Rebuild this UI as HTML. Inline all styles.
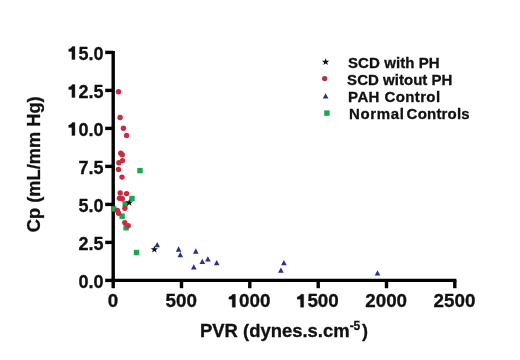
<!DOCTYPE html>
<html><head><meta charset="utf-8"><style>
html,body{margin:0;padding:0;background:#fff;}
svg{display:block;filter:blur(0.35px);}
text{font-family:"Liberation Sans",sans-serif;font-weight:bold;fill:#111;stroke:#111;stroke-width:0.3px;}
.lb{font-size:18px;}
.xt{font-size:18px;text-anchor:middle;}
.lg{font-size:15px;}
.ti{font-size:18px;}
</style></head><body>
<svg width="520" height="360" viewBox="0 0 520 360">
<rect width="520" height="360" fill="#fff"/>
<line x1="113.2" y1="51" x2="113.2" y2="282.09999999999997" stroke="#000" stroke-width="3.4"/>
<line x1="111.5" y1="280.4" x2="456.4" y2="280.4" stroke="#000" stroke-width="3.4"/>
<line x1="105.2" y1="280.4" x2="113.2" y2="280.4" stroke="#000" stroke-width="3.4"/>
<text transform="translate(78.48,287.50) scale(1.0,1)" class="lb">0.0</text>
<line x1="105.2" y1="242.4" x2="113.2" y2="242.4" stroke="#000" stroke-width="3.4"/>
<text transform="translate(78.48,249.50) scale(1.0,1)" class="lb">2.5</text>
<line x1="105.2" y1="204.4" x2="113.2" y2="204.4" stroke="#000" stroke-width="3.4"/>
<text transform="translate(78.48,211.50) scale(1.0,1)" class="lb">5.0</text>
<line x1="105.2" y1="166.4" x2="113.2" y2="166.4" stroke="#000" stroke-width="3.4"/>
<text transform="translate(78.48,173.50) scale(1.0,1)" class="lb">7.5</text>
<line x1="105.2" y1="128.4" x2="113.2" y2="128.4" stroke="#000" stroke-width="3.4"/>
<path transform="translate(68.47,135.50) scale(0.01800,-0.01800)" d="M360 0L190 0L190 445L12 445L12 565Q165 585 215 716L360 716Z" fill="#111" stroke="#111" stroke-width="0.3" vector-effect="non-scaling-stroke"/><text transform="translate(78.48,135.50) scale(1.0,1)" class="lb">0.0</text>
<line x1="105.2" y1="90.4" x2="113.2" y2="90.4" stroke="#000" stroke-width="3.4"/>
<path transform="translate(68.47,97.50) scale(0.01800,-0.01800)" d="M360 0L190 0L190 445L12 445L12 565Q165 585 215 716L360 716Z" fill="#111" stroke="#111" stroke-width="0.3" vector-effect="non-scaling-stroke"/><text transform="translate(78.48,97.50) scale(1.0,1)" class="lb">2.5</text>
<line x1="105.2" y1="52.4" x2="113.2" y2="52.4" stroke="#000" stroke-width="3.4"/>
<path transform="translate(68.47,59.50) scale(0.01800,-0.01800)" d="M360 0L190 0L190 445L12 445L12 565Q165 585 215 716L360 716Z" fill="#111" stroke="#111" stroke-width="0.3" vector-effect="non-scaling-stroke"/><text transform="translate(78.48,59.50) scale(1.0,1)" class="lb">5.0</text>
<line x1="113.2" y1="280.4" x2="113.2" y2="288.2" stroke="#000" stroke-width="3.4"/>
<text transform="translate(107.67,307.20) scale(1.045,1)" class="lb">0</text>
<line x1="181.5" y1="280.4" x2="181.5" y2="288.2" stroke="#000" stroke-width="3.4"/>
<text transform="translate(165.53,307.20) scale(1.045,1)" class="lb">500</text>
<line x1="249.8" y1="280.4" x2="249.8" y2="288.2" stroke="#000" stroke-width="3.4"/>
<path transform="translate(228.62,307.20) scale(0.01881,-0.01800)" d="M360 0L190 0L190 445L12 445L12 565Q165 585 215 716L360 716Z" fill="#111" stroke="#111" stroke-width="0.3" vector-effect="non-scaling-stroke"/><text transform="translate(239.08,307.20) scale(1.045,1)" class="lb">000</text>
<line x1="318.2" y1="280.4" x2="318.2" y2="288.2" stroke="#000" stroke-width="3.4"/>
<path transform="translate(296.94,307.20) scale(0.01881,-0.01800)" d="M360 0L190 0L190 445L12 445L12 565Q165 585 215 716L360 716Z" fill="#111" stroke="#111" stroke-width="0.3" vector-effect="non-scaling-stroke"/><text transform="translate(307.40,307.20) scale(1.045,1)" class="lb">500</text>
<line x1="386.5" y1="280.4" x2="386.5" y2="288.2" stroke="#000" stroke-width="3.4"/>
<text transform="translate(365.26,307.20) scale(1.045,1)" class="lb">2000</text>
<line x1="454.8" y1="280.4" x2="454.8" y2="288.2" stroke="#000" stroke-width="3.4"/>
<text transform="translate(433.58,307.20) scale(1.045,1)" class="lb">2500</text>
<rect x="137.30" y="167.90" width="5.4" height="5.4" fill="#1ca650"/>
<rect x="129.30" y="195.80" width="5.4" height="5.4" fill="#1ca650"/>
<rect x="122.50" y="201.10" width="5.4" height="5.4" fill="#1ca650"/>
<rect x="111.10" y="206.20" width="5.4" height="5.4" fill="#1ca650"/>
<rect x="119.40" y="213.50" width="5.4" height="5.4" fill="#1ca650"/>
<rect x="123.40" y="225.10" width="5.4" height="5.4" fill="#1ca650"/>
<rect x="133.80" y="249.80" width="5.4" height="5.4" fill="#1ca650"/>
<circle cx="118.5" cy="91.8" r="2.7" fill="#cc2a40"/>
<circle cx="120.1" cy="117.5" r="2.7" fill="#cc2a40"/>
<circle cx="123.4" cy="128.2" r="2.7" fill="#cc2a40"/>
<circle cx="126.6" cy="135.4" r="2.7" fill="#cc2a40"/>
<circle cx="120.8" cy="153.3" r="2.7" fill="#cc2a40"/>
<circle cx="122.2" cy="154.8" r="2.7" fill="#cc2a40"/>
<circle cx="122.5" cy="160.6" r="2.7" fill="#cc2a40"/>
<circle cx="118.9" cy="162.8" r="2.7" fill="#cc2a40"/>
<circle cx="118.5" cy="169.4" r="2.7" fill="#cc2a40"/>
<circle cx="122" cy="177.1" r="2.7" fill="#cc2a40"/>
<circle cx="120.2" cy="193.0" r="2.7" fill="#cc2a40"/>
<circle cx="126.6" cy="193.6" r="2.7" fill="#cc2a40"/>
<circle cx="119.5" cy="198.3" r="2.7" fill="#cc2a40"/>
<circle cx="122.3" cy="198.8" r="2.7" fill="#cc2a40"/>
<circle cx="124.9" cy="208.3" r="2.7" fill="#cc2a40"/>
<circle cx="117.4" cy="210.4" r="2.7" fill="#cc2a40"/>
<circle cx="118.6" cy="213.2" r="2.7" fill="#cc2a40"/>
<circle cx="124.8" cy="222.6" r="2.7" fill="#cc2a40"/>
<circle cx="128.2" cy="225.7" r="2.7" fill="#cc2a40"/>
<polygon points="129.20,198.90 130.14,201.41 132.81,201.53 130.72,203.19 131.43,205.77 129.20,204.30 126.97,205.77 127.68,203.19 125.59,201.53 128.26,201.41" fill="#111"/>
<polygon points="154.40,245.70 155.34,248.21 158.01,248.33 155.92,249.99 156.63,252.57 154.40,251.10 152.17,252.57 152.88,249.99 150.79,248.33 153.46,248.21" fill="#111"/>
<polygon points="157.20,242.05 160.00,247.37 154.40,247.37" fill="#283090"/>
<polygon points="178.60,246.35 181.40,251.67 175.80,251.67" fill="#283090"/>
<polygon points="180.30,252.05 183.10,257.37 177.50,257.37" fill="#283090"/>
<polygon points="195.80,248.35 198.60,253.67 193.00,253.67" fill="#283090"/>
<polygon points="193.80,264.15 196.60,269.47 191.00,269.47" fill="#283090"/>
<polygon points="202.30,258.75 205.10,264.07 199.50,264.07" fill="#283090"/>
<polygon points="207.90,256.25 210.70,261.57 205.10,261.57" fill="#283090"/>
<polygon points="216.70,260.05 219.50,265.37 213.90,265.37" fill="#283090"/>
<polygon points="280.90,267.45 283.70,272.77 278.10,272.77" fill="#283090"/>
<polygon points="283.90,259.95 286.70,265.27 281.10,265.27" fill="#283090"/>
<polygon points="377.50,270.25 380.30,275.57 374.70,275.57" fill="#283090"/>
<polygon points="325.60,58.20 326.54,60.71 329.21,60.83 327.12,62.49 327.83,65.07 325.60,63.60 323.37,65.07 324.08,62.49 321.99,60.83 324.66,60.71" fill="#111"/>
<circle cx="324.7" cy="78.6" r="2.7" fill="#b4343c"/>
<polygon points="325.60,93.15 328.40,98.47 322.80,98.47" fill="#283090"/>
<rect x="324.20" y="110.40" width="5.4" height="5.4" fill="#1ca650"/>
<text x="347.9" y="67.5" class="lg" textLength="91.8" lengthAdjust="spacing">SCD with PH</text>
<text x="347.1" y="84.9" class="lg" textLength="105.3" lengthAdjust="spacing">SCD witout PH</text>
<text x="348.1" y="101.5" class="lg" textLength="92.0" lengthAdjust="spacing">PAH Control</text>
<text x="349.0" y="118.8" class="lg" textLength="54.8" lengthAdjust="spacing">Normal</text>
<text x="406.6" y="118.8" class="lg" textLength="63.1" lengthAdjust="spacing">Controls</text>
<text transform="translate(200,336.8) scale(1.025,1)" class="ti">PVR (dynes.s.cm</text>
<text x="349.8" y="329.8" class="ti" style="font-size:12px;letter-spacing:-0.3px">-5</text>
<text x="362.0" y="336.8" class="ti">)</text>
<text transform="translate(40.3,164.3) rotate(-90) scale(1.015,1)" text-anchor="middle" class="ti">Cp (mL/mm Hg)</text>
</svg>
</body></html>
